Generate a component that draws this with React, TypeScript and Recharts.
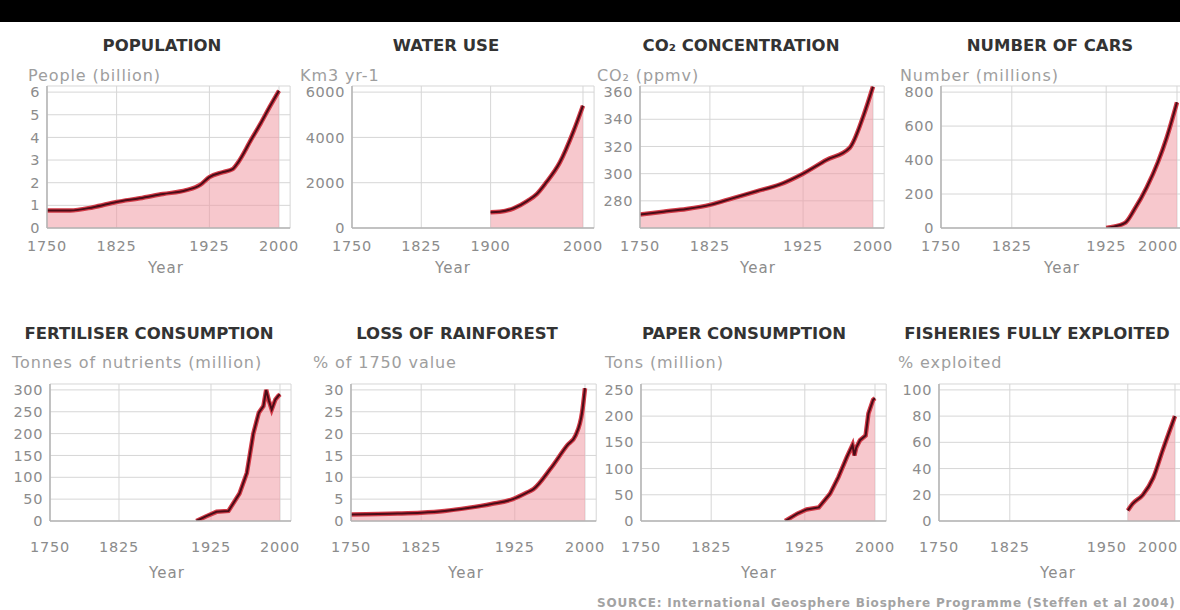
import React from "react";
import { Area, CartesianGrid, ComposedChart, Line, XAxis, YAxis } from "recharts";

const FONT = "'DejaVu Sans', Verdana, sans-serif";

// line + fill colours
const LINE_DARK = "#4a0c17";
const LINE_HALO = "#d23a47";
const FILL_PINK = "#f09aa4";
const GRID = "#d6d6d6";
const AXIS = "#b4b4b4";
const TICK_TEXT = "#8c8c8c";

// ---- data ----
const populationYears = [1750, 1775, 1800, 1825, 1850, 1875, 1900, 1915, 1925, 1940, 1950, 1956, 1970, 1980, 1990, 2000];
const populationValues = [0.77, 0.77, 0.92, 1.15, 1.31, 1.5, 1.67, 1.9, 2.25, 2.47, 2.6, 2.9, 3.9, 4.6, 5.35, 6.06];

const waterYears = [1900, 1910, 1925, 1940, 1950, 1960, 1975, 1990, 2000];
const waterValues = [700, 720, 870, 1200, 1500, 2000, 2900, 4300, 5400];

const co2Years = [1750, 1775, 1800, 1825, 1850, 1875, 1900, 1925, 1950, 1975, 1990, 2000];
const co2Values = [270, 272, 274, 277, 282, 287, 292, 300, 310, 319, 343, 364];

const carsYears = [1925, 1930, 1945, 1955, 1968, 1980, 1989, 2000];
const carsValues = [0, 5, 30, 110, 240, 390, 530, 740];

const fertYears = [1909, 1920, 1931, 1944, 1956, 1964, 1971, 1977, 1982, 1985, 1988, 1991, 1995, 1998, 2000];
const fertValues = [0, 11, 21, 23, 63, 110, 200, 248, 263, 300, 275, 255, 278, 286, 290];

const rainYears = [1750, 1800, 1825, 1850, 1875, 1900, 1923, 1938, 1945, 1963, 1981, 1990, 1997, 2000];
const rainValues = [1.5, 1.7, 1.9, 2.3, 3.0, 3.9, 5.0, 6.5, 7.3, 11.9, 17.3, 19.6, 25, 30.4];

const paperYears = [1904, 1917, 1927, 1940, 1952, 1961, 1970, 1976, 1978, 1980, 1984, 1990, 1993, 1998, 2000];
const paperValues = [0, 14, 22, 26, 52, 84, 122, 145, 125, 140, 154, 163, 205, 231, 234];

const fishYears = [1950, 1955, 1966, 1977, 1987, 2000];
const fishValues = [8, 13, 20, 33, 54, 80];

// tick labels
const yearTicks = [1750, 1825, 1925, 2000];
const waterYearTicks = [1750, 1825, 1900, 2000];
const fishYearTicks = [1750, 1825, 1950, 2000];

const populationTicks = [0, 1, 2, 3, 4, 5, 6];
const waterTicks = [0, 2000, 4000, 6000];
const co2Ticks = [280, 300, 320, 340, 360];
const carsTicks = [0, 200, 400, 600, 800];
const fertTicks = [0, 50, 100, 150, 200, 250, 300];
const rainTicks = [0, 5, 10, 15, 20, 25, 30];
const paperTicks = [0, 50, 100, 150, 200, 250];
const fishTicks = [0, 20, 40, 60, 80, 100];

const PAGE_W = 1180;
const Y_AXIS_W = 60;
const TOP_PAD = 6;
const RIGHT_PAD = 26;
const X_TICK_HALF = 20; // half the width of a 4-digit year label

const XTick = (props: any) => {
  const { x, y, payload, endTicks, maxX } = props;
  let anchor: "middle" | "end" = "middle";
  let tx = x;
  if (endTicks !== undefined && endTicks.includes(payload.value)) {
    anchor = "end";
    tx = x - 1;
  } else if (x + X_TICK_HALF > maxX) {
    // keep the label inside the page
    anchor = "end";
    tx = maxX;
  }
  return (
    <text
      x={tx}
      y={y}
      textAnchor={anchor}
      dominantBaseline="central"
      fill={TICK_TEXT}
      fontSize={14.5}
      fontFamily={FONT}
      letterSpacing={0.8}
    >
      {payload.value}
    </text>
  );
};

interface PanelProps {
  title: string;
  unit: string;
  years: number[];
  values: number[];
  xTicks: number[];
  yTicks: number[];
  yMin: number;
  left: number;
  span: number;
  bottom: number;
  plotH: number;
  xLabelGap: number;
  titleX: number;
  titleY: number;
  unitX: number;
  unitY: number;
  yearX: number;
  yearY: number;
  curve: "monotone" | "linear";
  endTicks?: number[];
}

const Panel: React.FC<PanelProps> = (p) => {
  const data = p.years.map((year, i) => ({ year, value: p.values[i] }));
  const plotW = (p.span * 262) / 250;
  const yMax = p.yTicks[p.yTicks.length - 1];
  const domainMax = p.yMin + (yMax - p.yMin) * 1.045;
  const xAxisH = 50;
  const chartLeft = p.left - Y_AXIS_W;
  const chartW = Y_AXIS_W + plotW + RIGHT_PAD;
  const chartH = TOP_PAD + p.plotH + xAxisH;
  return (
    <>
      <div
        style={{
          position: "absolute",
          left: p.titleX,
          top: p.titleY,
          transform: "translate(-50%, -50%)",
          whiteSpace: "nowrap",
          fontFamily: FONT,
          fontWeight: "bold",
          fontSize: 16.5,
          color: "#333",
        }}
      >
        {p.title}
      </div>
      <div
        style={{
          position: "absolute",
          left: p.unitX,
          top: p.unitY,
          transform: "translateY(-50%)",
          whiteSpace: "nowrap",
          fontFamily: FONT,
          fontSize: 16,
          letterSpacing: 0.9,
          color: "#9e9e9e",
        }}
      >
        {p.unit}
      </div>
      <div
        style={{
          position: "absolute",
          left: p.yearX,
          top: p.yearY,
          transform: "translate(-50%, -50%)",
          whiteSpace: "nowrap",
          fontFamily: FONT,
          fontSize: 15,
          letterSpacing: 1,
          color: TICK_TEXT,
        }}
      >
        Year
      </div>
      <div style={{ position: "absolute", left: chartLeft, top: p.bottom - p.plotH - TOP_PAD }}>
        <ComposedChart width={chartW} height={chartH} data={data} margin={{ top: TOP_PAD, right: RIGHT_PAD, bottom: 0, left: 0 }}>
          <CartesianGrid stroke={GRID} strokeWidth={1} />
          <XAxis
            dataKey="year"
            type="number"
            domain={[1750, 2012]}
            ticks={p.xTicks}
            interval={0}
            allowDataOverflow
            height={xAxisH}
            tickSize={0}
            tickMargin={p.xLabelGap}
            tickLine={false}
            axisLine={{ stroke: AXIS, strokeWidth: 1.5 }}
            tick={<XTick endTicks={p.endTicks} maxX={PAGE_W - 2 - chartLeft} />}
          />
          <YAxis
            type="number"
            domain={[p.yMin, domainMax]}
            ticks={p.yTicks}
            interval={0}
            allowDataOverflow
            width={Y_AXIS_W}
            tickSize={0}
            tickMargin={7}
            tickLine={false}
            axisLine={{ stroke: AXIS, strokeWidth: 1.5 }}
            tick={{ fill: TICK_TEXT, fontSize: 14.5, fontFamily: FONT, letterSpacing: 0.6 }}
          />
          <Area
            type={p.curve}
            dataKey="value"
            stroke={LINE_HALO}
            strokeWidth={4.5}
            fill={FILL_PINK}
            fillOpacity={0.55}
            baseValue={p.yMin}
            isAnimationActive={false}
            dot={false}
            activeDot={false}
          />
          <Line
            type={p.curve}
            dataKey="value"
            stroke={LINE_DARK}
            strokeWidth={2}
            dot={false}
            activeDot={false}
            isAnimationActive={false}
          />
        </ComposedChart>
      </div>
    </>
  );
};

const ROW1 = { bottom: 228, plotH: 142, titleY: 45, unitY: 75, yearY: 268, xLabelGap: 18.5 };
const ROW2 = { bottom: 521, plotH: 137, titleY: 333, unitY: 362, yearY: 573, xLabelGap: 26 };

export default function App() {
  return (
    <div
      style={{
        position: "absolute",
        left: 0,
        top: 0,
        width: PAGE_W,
        height: 610,
        overflow: "hidden",
        background: "#fff",
      }}
    >
      <div style={{ position: "absolute", left: 0, top: 0, width: PAGE_W, height: 22, background: "#000" }} />

      <Panel {...ROW1} title="POPULATION" unit="People (billion)" years={populationYears} values={populationValues}
        xTicks={yearTicks} yTicks={populationTicks} yMin={0} left={47} span={232} titleX={162} unitX={28} yearX={166} curve="monotone" />
      <Panel {...ROW1} title="WATER USE" unit="Km3 yr-1" years={waterYears} values={waterValues}
        xTicks={waterYearTicks} yTicks={waterTicks} yMin={0} left={352} span={231} titleX={446} unitX={300} yearX={453} curve="monotone" />
      <Panel {...ROW1} title="CO₂ CONCENTRATION" unit="CO₂ (ppmv)" years={co2Years} values={co2Values}
        xTicks={yearTicks} yTicks={co2Ticks} yMin={260} left={640} span={233} titleX={741} unitX={597} yearX={758} curve="monotone" />
      <Panel {...ROW1} title="NUMBER OF CARS" unit="Number (millions)" years={carsYears} values={carsValues}
        xTicks={yearTicks} yTicks={carsTicks} yMin={0} left={941} span={236} titleX={1050} unitX={900} yearX={1062} curve="monotone" />

      <Panel {...ROW2} title="FERTILISER CONSUMPTION" unit="Tonnes of nutrients (million)" years={fertYears} values={fertValues}
        xTicks={yearTicks} yTicks={fertTicks} yMin={0} left={50} span={230} titleX={149} unitX={12} yearX={167} curve="linear" />
      <Panel {...ROW2} title="LOSS OF RAINFOREST" unit="% of 1750 value" years={rainYears} values={rainValues}
        xTicks={yearTicks} yTicks={rainTicks} yMin={0} left={351} span={234} titleX={457} unitX={313} yearX={466} curve="monotone" />
      <Panel {...ROW2} title="PAPER CONSUMPTION" unit="Tons (million)" years={paperYears} values={paperValues}
        xTicks={yearTicks} yTicks={paperTicks} yMin={0} left={641} span={234} titleX={744} unitX={605} yearX={759} curve="linear" />
      <Panel {...ROW2} title="FISHERIES FULLY EXPLOITED" unit="% exploited" years={fishYears} values={fishValues}
        xTicks={fishYearTicks} yTicks={fishTicks} yMin={0} left={939} span={236} titleX={1037} unitX={898} yearX={1058} curve="monotone" endTicks={[1950]} />

      <div
        style={{
          position: "absolute",
          left: 597,
          top: 603,
          transform: "translateY(-50%)",
          whiteSpace: "nowrap",
          fontFamily: FONT,
          fontWeight: "bold",
          fontSize: 12,
          letterSpacing: 0.8,
          color: "#a3a3a3",
        }}
      >
        SOURCE: International Geosphere Biosphere Programme (Steffen et al 2004)
      </div>
    </div>
  );
}
